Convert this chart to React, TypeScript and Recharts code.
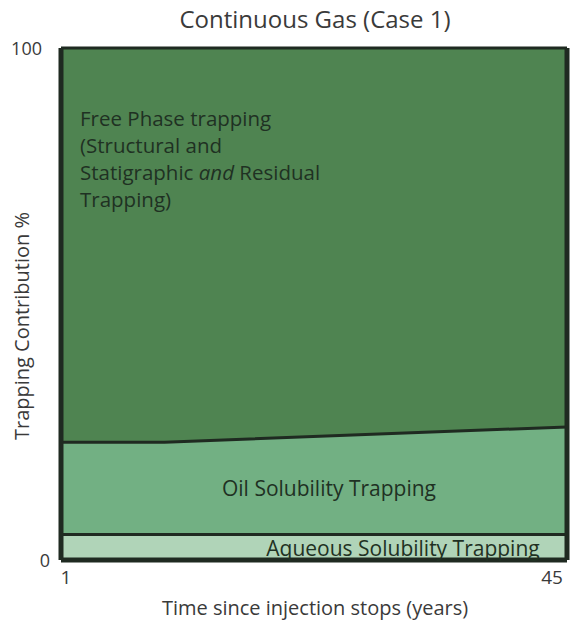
import React from "react";
import { AreaChart, Area, XAxis, YAxis } from "recharts";

// Years since injection stopped
const years = [1, 10, 45];
// Contribution of each trapping mechanism (%), stacked bottom to top
const aqueous = [5, 5, 5];
const oil = [18, 18, 21];
const freePhase = [77, 77, 74];

const xTicks = [1, 45];
const yTicks = [0, 100];

const data = years.map((t, i) => ({
  t,
  aqueous: aqueous[i],
  oil: oil[i],
  freePhase: freePhase[i],
}));

const W = 572;
const H = 626;
const FONT = '"Open Sans", "Noto Sans", sans-serif';
const OUTER_TEXT = "#3a3a3a";
const INNER_TEXT = "#1f3123";
const EDGE = "#1f2a21";
// axis lines sit under the area fills, so half of their width stays visible
const frame = { stroke: EDGE, strokeWidth: 5 };

const layers = [
  { key: "aqueous", fill: "#b0d4b8" },
  { key: "oil", fill: "#72b083" },
  { key: "freePhase", fill: "#4f8451" },
];

const XTick = (props: any) => {
  const { x, y, payload } = props;
  const dx = payload.value === 1 ? 5 : -12;
  return (
    <text x={x + dx} y={y + 16} textAnchor="middle" fontSize={19} fill={OUTER_TEXT} fontFamily={FONT}>
      {payload.value}
    </text>
  );
};

const YTick = (props: any) => {
  const { x, y, payload } = props;
  const dx = payload.value === 100 ? -11 : -3;
  return (
    <text x={x + dx} y={y + 7} textAnchor="end" fontSize={18} fill={OUTER_TEXT} fontFamily={FONT}>
      {payload.value}
    </text>
  );
};

// Titles and in-plot labels, drawn on top of the filled areas
const Annotations = () => (
  <svg
    width={W}
    height={H}
    style={{ position: "absolute", left: 0, top: 0, pointerEvents: "none" }}
  >
    <g fontFamily={FONT}>
      <text x={315} y={28} textAnchor="middle" fontSize={24} fill={OUTER_TEXT}>
        Continuous Gas (Case 1)
      </text>
      <text x={315} y={615} textAnchor="middle" fontSize={20} fill={OUTER_TEXT}>
        Time since injection stops (years)
      </text>
      <text
        x={0}
        y={0}
        textAnchor="middle"
        fontSize={20}
        fill={OUTER_TEXT}
        transform="translate(29,326) rotate(-90)"
      >
        Trapping Contribution %
      </text>
      <g fontSize={20.5} fill={INNER_TEXT}>
        <text x={80} y={126}>Free Phase trapping</text>
        <text x={80} y={153}>(Structural and</text>
        <text x={80} y={180}>
          Statigraphic <tspan fontStyle="italic">and</tspan> Residual
        </text>
        <text x={80} y={207}>Trapping)</text>
      </g>
      <text x={329} y={496} textAnchor="middle" fontSize={21} fill={INNER_TEXT}>
        Oil Solubility Trapping
      </text>
      <text x={403} y={556} textAnchor="middle" fontSize={21} fill={INNER_TEXT}>
        Aqueous Solubility Trapping
      </text>
    </g>
  </svg>
);

export default function App() {
  return (
    <div style={{ position: "absolute", left: 0, top: 0, width: W, height: H }}>
      <AreaChart
        width={W}
        height={H}
        data={data}
        margin={{ top: 48, right: 0, bottom: 36, left: 0 }}
      >
        <XAxis
          dataKey="t"
          type="number"
          domain={[1, 45]}
          ticks={xTicks}
          tick={<XTick />}
          axisLine={frame}
          tickLine={false}
          height={30}
        />
        <YAxis
          type="number"
          domain={[0, 100]}
          ticks={yTicks}
          tick={<YTick />}
          axisLine={frame}
          tickLine={false}
          width={61}
        />
        <YAxis
          yAxisId="right"
          orientation="right"
          type="number"
          domain={[0, 100]}
          tick={false}
          axisLine={frame}
          tickLine={false}
          width={5}
        />
        {/* filled bands */}
        {layers.map((l) => (
          <Area
            key={l.key}
            type="linear"
            dataKey={l.key}
            stackId="fill"
            fill={l.fill}
            fillOpacity={1}
            stroke="none"
            isAnimationActive={false}
          />
        ))}
        {/* band boundaries drawn over all fills */}
        {layers.map((l) => (
          <Area
            key={`${l.key}-edge`}
            type="linear"
            dataKey={l.key}
            stackId="edge"
            fill="none"
            fillOpacity={0}
            stroke={EDGE}
            strokeWidth={3}
            isAnimationActive={false}
          />
        ))}
      </AreaChart>
      <Annotations />
    </div>
  );
}
